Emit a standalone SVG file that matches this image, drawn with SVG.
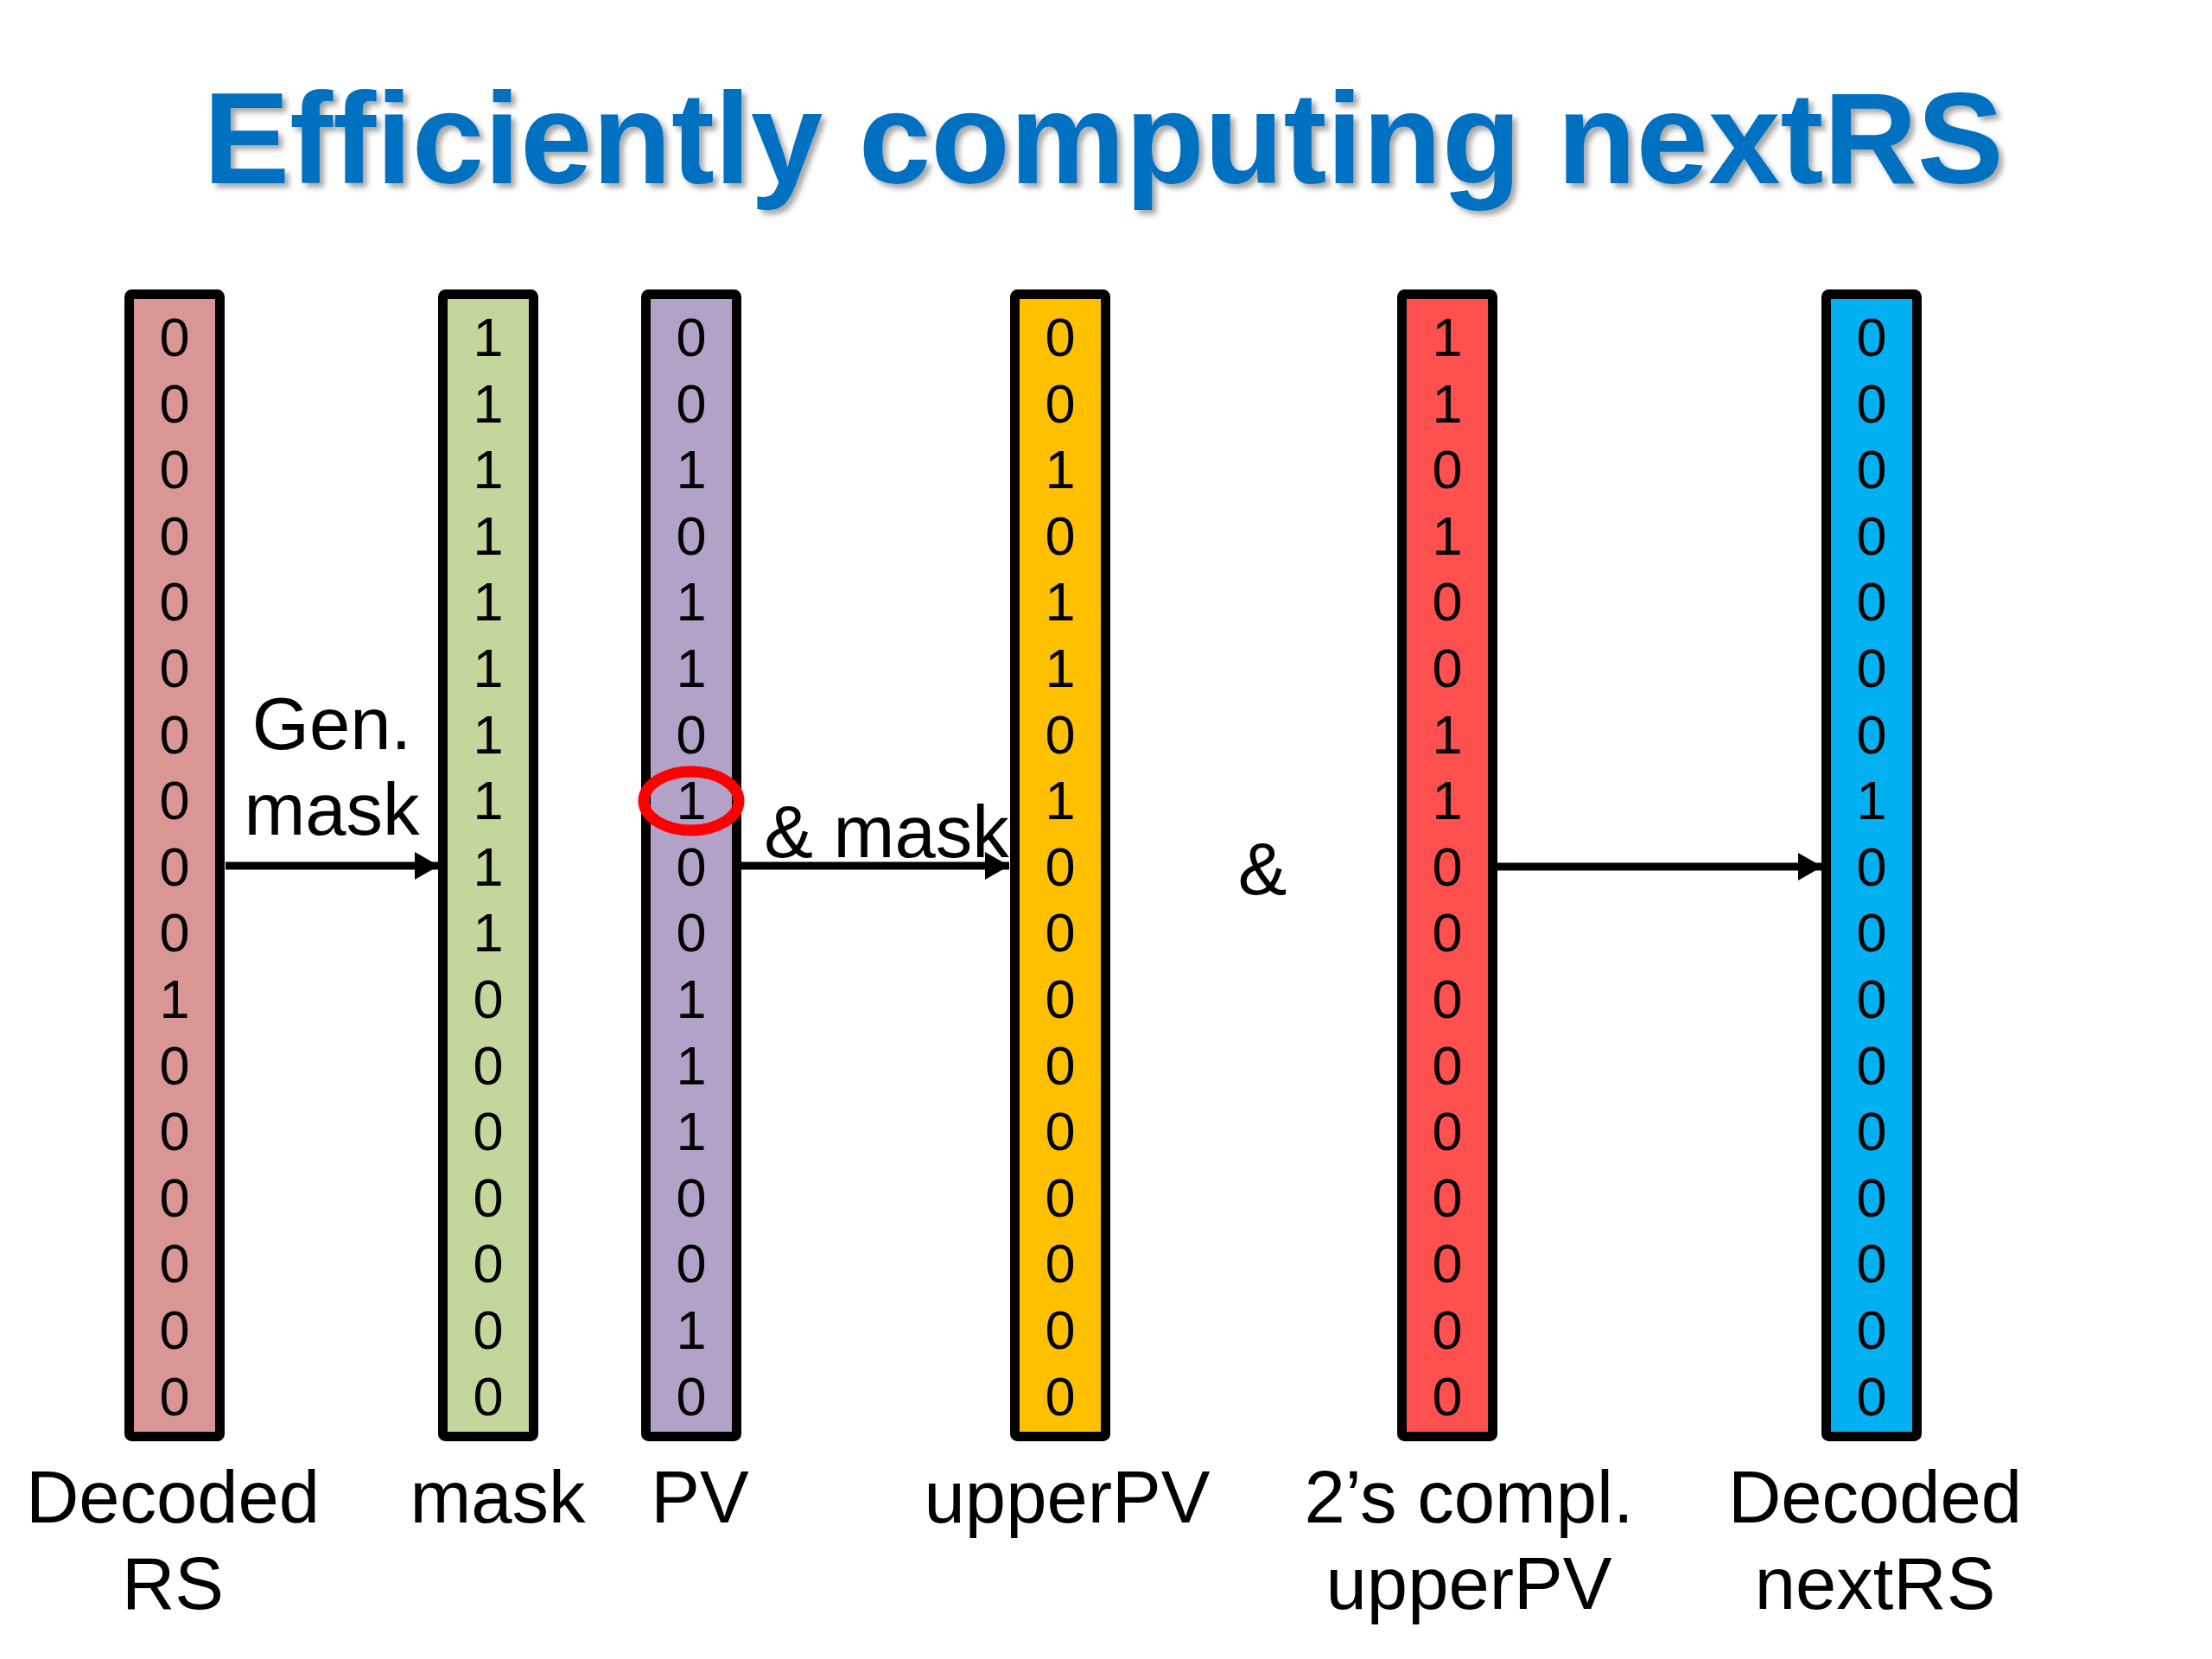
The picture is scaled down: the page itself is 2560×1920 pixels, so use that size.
<svg xmlns="http://www.w3.org/2000/svg" width="2560" height="1920" viewBox="0 0 2560 1920">
<defs>
<filter id="shadow" x="-5%" y="-20%" width="110%" height="140%">
<feDropShadow dx="5" dy="5" stdDeviation="3" flood-color="#000" flood-opacity="0.35"/>
</filter>
<marker id="arr" markerUnits="userSpaceOnUse" markerWidth="30" markerHeight="32" refX="28" refY="16" orient="auto">
<path d="M0,0 L28,16 L0,32 Z" fill="#000"/>
</marker>
</defs>
<style>
.col{stroke:#000;stroke-width:11;}
.bit{font-family:"Liberation Sans",Arial,sans-serif;font-size:63px;text-anchor:middle;fill:#000;}
.lbl{font-family:"Liberation Sans",Arial,sans-serif;font-size:85px;text-anchor:middle;fill:#000;}
.conn{stroke:#000;stroke-width:9;fill:none;}
</style>
<rect width="2560" height="1920" fill="#fff"/>
<text x="1277" y="212" font-family="'Liberation Sans',Arial,sans-serif" font-weight="bold" font-size="150" fill="#0070C0" text-anchor="middle" filter="url(#shadow)">Efficiently computing nextRS</text>

<g id="decodedRS">
<rect class="col" x="149.5" y="340.5" width="105" height="1322" rx="3" fill="#D99694"/>
<text class="bit" x="202"><tspan x="202" y="412">0</tspan><tspan x="202" y="488.6">0</tspan><tspan x="202" y="565.2">0</tspan><tspan x="202" y="641.8">0</tspan><tspan x="202" y="718.4">0</tspan><tspan x="202" y="795">0</tspan><tspan x="202" y="871.6">0</tspan><tspan x="202" y="948.2">0</tspan><tspan x="202" y="1024.8">0</tspan><tspan x="202" y="1101.4">0</tspan><tspan x="202" y="1178">1</tspan><tspan x="202" y="1254.6">0</tspan><tspan x="202" y="1331.2">0</tspan><tspan x="202" y="1407.8">0</tspan><tspan x="202" y="1484.4">0</tspan><tspan x="202" y="1561">0</tspan><tspan x="202" y="1637.6">0</tspan></text>
<text class="lbl"><tspan x="200" y="1762">Decoded</tspan><tspan x="200" y="1862">RS</tspan></text>
</g>

<g id="mask">
<rect class="col" x="512.5" y="340.5" width="105" height="1322" rx="3" fill="#C3D69B"/>
<text class="bit"><tspan x="565" y="412">1</tspan><tspan x="565" y="488.6">1</tspan><tspan x="565" y="565.2">1</tspan><tspan x="565" y="641.8">1</tspan><tspan x="565" y="718.4">1</tspan><tspan x="565" y="795">1</tspan><tspan x="565" y="871.6">1</tspan><tspan x="565" y="948.2">1</tspan><tspan x="565" y="1024.8">1</tspan><tspan x="565" y="1101.4">1</tspan><tspan x="565" y="1178">0</tspan><tspan x="565" y="1254.6">0</tspan><tspan x="565" y="1331.2">0</tspan><tspan x="565" y="1407.8">0</tspan><tspan x="565" y="1484.4">0</tspan><tspan x="565" y="1561">0</tspan><tspan x="565" y="1637.6">0</tspan></text>
<text class="lbl" x="576" y="1762">mask</text>
</g>

<g id="PV">
<rect class="col" x="747.5" y="340.5" width="105" height="1322" rx="3" fill="#B2A2C7"/>
<text class="bit"><tspan x="800" y="412">0</tspan><tspan x="800" y="488.6">0</tspan><tspan x="800" y="565.2">1</tspan><tspan x="800" y="641.8">0</tspan><tspan x="800" y="718.4">1</tspan><tspan x="800" y="795">1</tspan><tspan x="800" y="871.6">0</tspan><tspan x="800" y="948.2">1</tspan><tspan x="800" y="1024.8">0</tspan><tspan x="800" y="1101.4">0</tspan><tspan x="800" y="1178">1</tspan><tspan x="800" y="1254.6">1</tspan><tspan x="800" y="1331.2">1</tspan><tspan x="800" y="1407.8">0</tspan><tspan x="800" y="1484.4">0</tspan><tspan x="800" y="1561">1</tspan><tspan x="800" y="1637.6">0</tspan></text>
<ellipse cx="800" cy="927" rx="55" ry="34" fill="none" stroke="#FF0000" stroke-width="13"/>
<text class="lbl" x="810" y="1762">PV</text>
</g>

<g id="upperPV">
<rect class="col" x="1174.5" y="340.5" width="105" height="1322" rx="3" fill="#FFC000"/>
<text class="bit"><tspan x="1227" y="412">0</tspan><tspan x="1227" y="488.6">0</tspan><tspan x="1227" y="565.2">1</tspan><tspan x="1227" y="641.8">0</tspan><tspan x="1227" y="718.4">1</tspan><tspan x="1227" y="795">1</tspan><tspan x="1227" y="871.6">0</tspan><tspan x="1227" y="948.2">1</tspan><tspan x="1227" y="1024.8">0</tspan><tspan x="1227" y="1101.4">0</tspan><tspan x="1227" y="1178">0</tspan><tspan x="1227" y="1254.6">0</tspan><tspan x="1227" y="1331.2">0</tspan><tspan x="1227" y="1407.8">0</tspan><tspan x="1227" y="1484.4">0</tspan><tspan x="1227" y="1561">0</tspan><tspan x="1227" y="1637.6">0</tspan></text>
<text class="lbl" x="1235" y="1762">upperPV</text>
</g>

<g id="complUpperPV">
<rect class="col" x="1622.5" y="340.5" width="105" height="1322" rx="3" fill="#FF5050"/>
<text class="bit"><tspan x="1675" y="412">1</tspan><tspan x="1675" y="488.6">1</tspan><tspan x="1675" y="565.2">0</tspan><tspan x="1675" y="641.8">1</tspan><tspan x="1675" y="718.4">0</tspan><tspan x="1675" y="795">0</tspan><tspan x="1675" y="871.6">1</tspan><tspan x="1675" y="948.2">1</tspan><tspan x="1675" y="1024.8">0</tspan><tspan x="1675" y="1101.4">0</tspan><tspan x="1675" y="1178">0</tspan><tspan x="1675" y="1254.6">0</tspan><tspan x="1675" y="1331.2">0</tspan><tspan x="1675" y="1407.8">0</tspan><tspan x="1675" y="1484.4">0</tspan><tspan x="1675" y="1561">0</tspan><tspan x="1675" y="1637.6">0</tspan></text>
<text class="lbl"><tspan x="1700" y="1762">2’s compl.</tspan><tspan x="1700" y="1862">upperPV</tspan></text>
</g>

<g id="nextRS">
<rect class="col" x="2113.5" y="340.5" width="105" height="1322" rx="3" fill="#00B0F0"/>
<text class="bit"><tspan x="2166" y="412">0</tspan><tspan x="2166" y="488.6">0</tspan><tspan x="2166" y="565.2">0</tspan><tspan x="2166" y="641.8">0</tspan><tspan x="2166" y="718.4">0</tspan><tspan x="2166" y="795">0</tspan><tspan x="2166" y="871.6">0</tspan><tspan x="2166" y="948.2">1</tspan><tspan x="2166" y="1024.8">0</tspan><tspan x="2166" y="1101.4">0</tspan><tspan x="2166" y="1178">0</tspan><tspan x="2166" y="1254.6">0</tspan><tspan x="2166" y="1331.2">0</tspan><tspan x="2166" y="1407.8">0</tspan><tspan x="2166" y="1484.4">0</tspan><tspan x="2166" y="1561">0</tspan><tspan x="2166" y="1637.6">0</tspan></text>
<text class="lbl"><tspan x="2170" y="1762">Decoded</tspan><tspan x="2170" y="1862">nextRS</tspan></text>
</g>

<g id="connectors">
<line class="conn" x1="261" y1="1002" x2="508" y2="1002" marker-end="url(#arr)"/>
<line class="conn" x1="857" y1="1002" x2="1168" y2="1002" marker-end="url(#arr)"/>
<line class="conn" x1="1732" y1="1003" x2="2109" y2="1003" marker-end="url(#arr)"/>
<text class="lbl"><tspan x="384" y="867">Gen.</tspan><tspan x="384" y="966">mask</tspan></text>
<text class="lbl" x="1026" y="992">&amp; mask</text>
<text class="lbl" x="1461" y="1035">&amp;</text>
</g>
</svg>
